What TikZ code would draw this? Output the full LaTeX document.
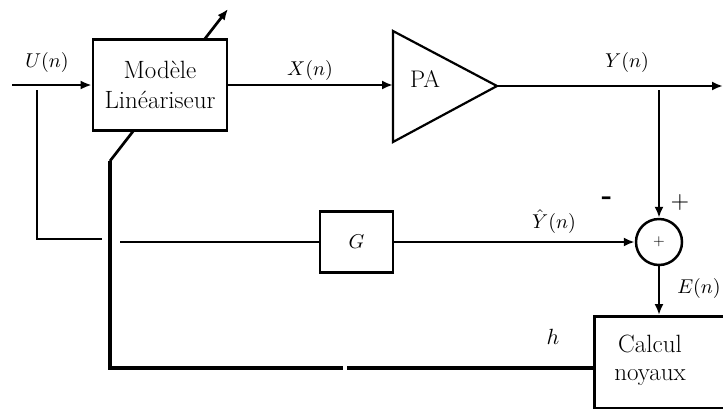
\documentclass[tikz,border=0pt]{standalone}
\usepackage{graphicx}
\usetikzlibrary{arrows.meta}
\begin{document}
\begin{tikzpicture}[x=1pt,y=-1pt, line width=2.7pt,
  arr/.style={-{Latex[length=11pt,width=9pt]}},
  box/.style={draw, rectangle, inner sep=0pt, line width=2.7pt},
  mlab/.style={inner sep=0pt},
  tlab/.style={font=\fontsize{25}{30}\selectfont, align=center, inner sep=0pt}]
\useasboundingbox (0,0) rectangle (723,408);
% coordinates
\coordinate (in) at (12,85);
\coordinate (corner) at (110,161);
\coordinate (adapt) at (228,9);
\coordinate (pain) at (393,85);
\coordinate (patop) at (393,31);
\coordinate (pabot) at (393,142);
\coordinate (paout) at (497,86);
\coordinate (yend) at (723,86);
\coordinate (ytap) at (659,90);
\coordinate (ltop) at (37,90);
\coordinate (lbot) at (37,239);
\coordinate (lend) at (102,239);
\coordinate (gstart) at (120,242);
\coordinate (fb) at (110,368);
\coordinate (gapL) at (343,368);
\coordinate (gapR) at (347,368);
% adaptation arrow (behind the model box)
\draw[arr] (corner) -- (adapt);
% model box
\node[box, minimum width=134pt, minimum height=91pt, fill=white, tlab] (mod) at (160,85) {Modèle\\Linéariseur};
% PA triangle
\draw[line width=2.2pt, line join=miter] (patop) -- (paout) -- (pabot) -- cycle;
\node[tlab, font=\fontsize{24}{28}\selectfont] (patext) at (425,79) {PA};
% signal path
\draw[arr] (in) -- (mod.west);
\draw[arr] (mod.east) -- (pain);
\draw[arr] (paout) -- (yend);
% summer
\node[draw, circle, minimum size=46pt, inner sep=0pt, line width=2.5pt] (sum) at (659,242) {\scalebox{1.5}{$+$}};
\draw[arr] (ytap) -- (sum.north);
% G block
\node[box, minimum width=73pt, minimum height=61pt] (g) at (356.5,242) {\scalebox{2}{$G$}};
\draw[arr] (g.east) -- (sum.west);
\draw (gstart) -- (g.west);
\draw (ltop) -- (lbot) -- (lend);
% Calcul noyaux
\node[box, minimum width=150pt, minimum height=92pt, anchor=north west] (calc) at (593,315) {};
\node[tlab, font=\fontsize{25}{28}\selectfont] (calctext) at (650,360) {Calcul\\noyaux};
\draw[arr] (sum.south) -- (sum.south |- calc.north);
% feedback
\draw[line width=3.5pt] (corner) -- (fb) -- (gapL);
\draw[line width=3.5pt] (gapR) -- (gapR -| calc.west);
% labels
\node[mlab] (ulab) at (47,62) {\scalebox{2}{$U(n)$}};
\node[mlab] (xlab) at (310,70) {\scalebox{2}{$X(n)$}};
\node[mlab] (ylab) at (627,62) {\scalebox{2}{$Y(n)$}};
\node[mlab] (yhlab) at (554,222) {\scalebox{2}{$\hat{Y}(n)$}};
\node[mlab] (elab) at (699,288) {\scalebox{2}{$E(n)$}};
\node[mlab] (hlab) at (553,337) {\scalebox{2.2}{$h$}};
\node[mlab] (plus) at (680,202) {\scalebox{2.4}{$+$}};
\node[mlab] (minus) at (607,201) {\scalebox{2.8}{\bfseries -}};
\end{tikzpicture}
\end{document}
